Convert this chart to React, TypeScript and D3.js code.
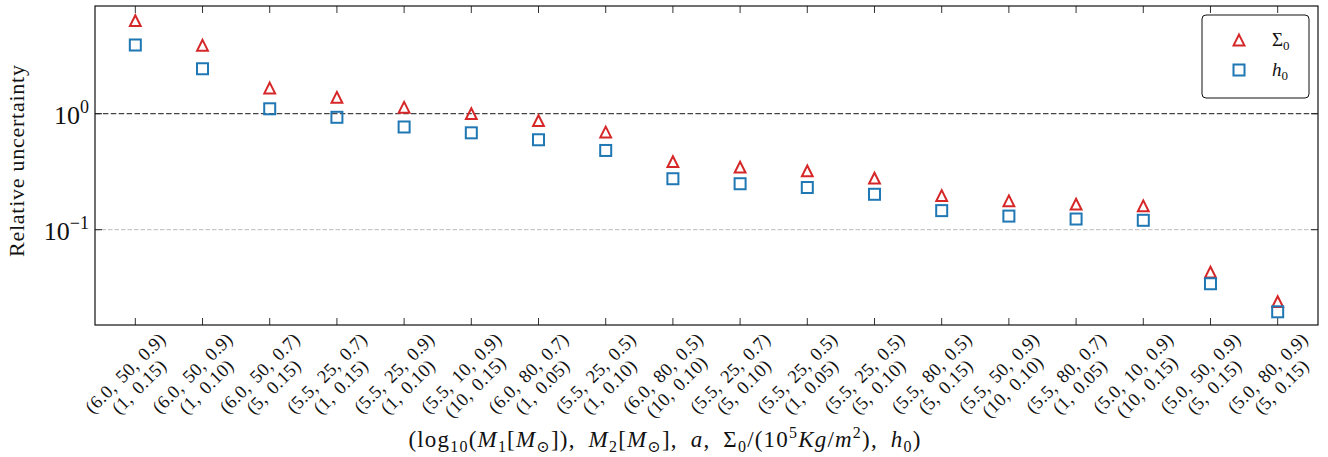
import React from 'react';
import * as d3 from 'd3';

const labelLine1 = [
  '(6.0, 50, 0.9)', '(6.0, 50, 0.9)', '(6.0, 50, 0.7)', '(5.5, 25, 0.7)', '(5.5, 25, 0.9)',
  '(5.5, 10, 0.9)', '(6.0, 80, 0.7)', '(5.5, 25, 0.5)', '(6.0, 80, 0.5)', '(5.5, 25, 0.7)',
  '(5.5, 25, 0.5)', '(5.5, 25, 0.5)', '(5.5, 80, 0.5)', '(5.5, 50, 0.9)', '(5.5, 80, 0.7)',
  '(5.0, 10, 0.9)', '(5.0, 50, 0.9)', '(5.0, 80, 0.9)',
];
const labelLine2 = [
  '(1, 0.15)', '(1, 0.10)', '(5, 0.15)', '(1, 0.15)', '(1, 0.10)', '(10, 0.15)',
  '(1, 0.05)', '(1, 0.10)', '(10, 0.10)', '(5, 0.10)', '(1, 0.05)', '(5, 0.10)',
  '(5, 0.15)', '(10, 0.10)', '(1, 0.05)', '(10, 0.15)', '(5, 0.15)', '(5, 0.15)',
];
const sigma0Values = [
  6.34, 3.89, 1.666, 1.384, 1.136, 1.0, 0.87, 0.695, 0.386, 0.346, 0.321, 0.278,
  0.197, 0.1775, 0.166, 0.1607, 0.043, 0.024,
];
const h0Values = [
  3.91, 2.44, 1.102, 0.931, 0.768, 0.684, 0.596, 0.482, 0.275, 0.249, 0.231, 0.202,
  0.146, 0.131, 0.1236, 0.1205, 0.0342, 0.0196,
];
const yTickValues = [1, 0.1];
const yTickExponents = ['0', '\u22121'];

const FONT = '"Liberation Serif", "DejaVu Serif", serif';
const RED = '#d62728';
const BLUE = '#1f77b4';

export default function App() {
  const W = 1328, H = 457;
  const left = 95, right = 1318, top = 6, bottom = 325;
  const idx = labelLine1.map((_, i) => i);
  const x = d3.scaleLinear().domain([-0.6, 17.6]).range([left, right]);
  const y = d3.scaleLog().domain([0.01508, 8.48]).range([bottom, top]);
  const s = 5.4;
  const triPath = `M0,${-s}L${s},${s}L${-s},${s}Z`;
  const sq = 5.5;
  const tickLen = 7;
  const lh = 19.5;
  const subFs = 16;

  return (
    <svg width={W} height={H} style={{ position: 'absolute', left: 0, top: 0, background: '#fff' }} fontFamily={FONT}>
      <rect x={0} y={0} width={W} height={H} fill="#fff" />
      {/* reference lines */}
      <line x1={left} x2={right} y1={y(1)} y2={y(1)} stroke="#444" strokeWidth={1.3} strokeDasharray="5.5,2.4" />
      <line x1={left} x2={right} y1={y(0.1)} y2={y(0.1)} stroke="#bbb" strokeWidth={1} strokeDasharray="4.5,2" />
      {/* ticks */}
      {idx.map((i) => (
        <g key={'t' + i} stroke="#333" strokeWidth={1}>
          <line x1={x(i)} x2={x(i)} y1={bottom} y2={bottom - tickLen} />
          <line x1={x(i)} x2={x(i)} y1={top} y2={top + tickLen} />
        </g>
      ))}
      {yTickValues.map((v) => (
        <g key={'yt' + v} stroke="#222" strokeWidth={1}>
          <line x1={left} x2={left + tickLen} y1={y(v)} y2={y(v)} />
          <line x1={right} x2={right - tickLen} y1={y(v)} y2={y(v)} />
        </g>
      ))}
      {/* markers */}
      {sigma0Values.map((v, i) => (
        <path key={'s' + i} d={triPath} transform={`translate(${x(i)},${y(v)})`} fill="none" stroke={RED} strokeWidth={2} />
      ))}
      {h0Values.map((v, i) => (
        <rect key={'h' + i} x={x(i) - sq} y={y(v) - sq} width={sq * 2} height={sq * 2} fill="none" stroke={BLUE} strokeWidth={2} />
      ))}
      {/* frame */}
      <rect x={left} y={top} width={right - left} height={bottom - top} fill="none" stroke="#111" strokeWidth={1.2} />
      {/* y tick labels */}
      {yTickValues.map((v, k) => (
        <text key={'yl' + v} x={89} y={y(v) + 10} textAnchor="end" fontSize={26} fill="#111">
          10<tspan dy={-11} fontSize={18}>{yTickExponents[k]}</tspan>
        </text>
      ))}
      {/* x tick labels */}
      {idx.map((i) => (
        <g key={'xl' + i} transform={`translate(${x(i) - 3},${380}) rotate(-45)`} fontSize={18.5} fill="#111" textAnchor="middle" letterSpacing={0.3} wordSpacing={2.5}>
          <text x={0} y={-lh / 2 + 6}>{labelLine1[i]}</text>
          <text x={0} y={lh / 2 + 6}>{labelLine2[i]}</text>
        </g>
      ))}
      {/* y axis label */}
      <text transform={`translate(24,${161}) rotate(-90)`} textAnchor="middle" fontSize={22} fill="#111" textLength={192} lengthAdjust="spacing">
        Relative uncertainty
      </text>
      {/* x axis label */}
      <text x={665} y={447} textAnchor="middle" fontSize={23} fill="#111" letterSpacing={1.2} wordSpacing={6}>
        (log<tspan fontSize={subFs} dy={5}>10</tspan>
        <tspan dy={-5}>(</tspan><tspan fontStyle="italic">M</tspan><tspan fontSize={subFs} dy={5}>1</tspan>
        <tspan dy={-5}>[</tspan><tspan fontStyle="italic">M</tspan><tspan fontSize={subFs} dy={5}>⊙</tspan>
        <tspan dy={-5}>]), </tspan><tspan fontStyle="italic">M</tspan><tspan fontSize={subFs} dy={5}>2</tspan>
        <tspan dy={-5}>[</tspan><tspan fontStyle="italic">M</tspan><tspan fontSize={subFs} dy={5}>⊙</tspan>
        <tspan dy={-5}>],  </tspan><tspan fontStyle="italic">a</tspan><tspan>,  Σ</tspan><tspan fontSize={subFs} dy={5}>0</tspan>
        <tspan dy={-5}>/(10</tspan><tspan fontSize={subFs} dy={-9}>5</tspan>
        <tspan dy={9} fontStyle="italic">Kg</tspan><tspan>/</tspan><tspan fontStyle="italic">m</tspan><tspan fontSize={subFs} dy={-9}>2</tspan>
        <tspan dy={9}>),  </tspan><tspan fontStyle="italic">h</tspan><tspan fontSize={subFs} dy={5}>0</tspan>
        <tspan dy={-5}>)</tspan>
      </text>
      {/* legend */}
      <rect x={1202} y={15} width={107} height={83} rx={4} fill="#fff" stroke="#111" strokeWidth={1} />
      <path d={triPath} transform="translate(1239,40)" fill="none" stroke={RED} strokeWidth={2} />
      <rect x={1239 - sq} y={70 - sq} width={sq * 2} height={sq * 2} fill="none" stroke={BLUE} strokeWidth={2} />
      <text x={1272} y={46} fontSize={19} fill="#111">
        Σ<tspan fontSize={13} dy={4}>0</tspan>
      </text>
      <text x={1272} y={76} fontSize={19} fill="#111">
        <tspan fontStyle="italic">h</tspan><tspan fontSize={13} dy={4}>0</tspan>
      </text>
    </svg>
  );
}
